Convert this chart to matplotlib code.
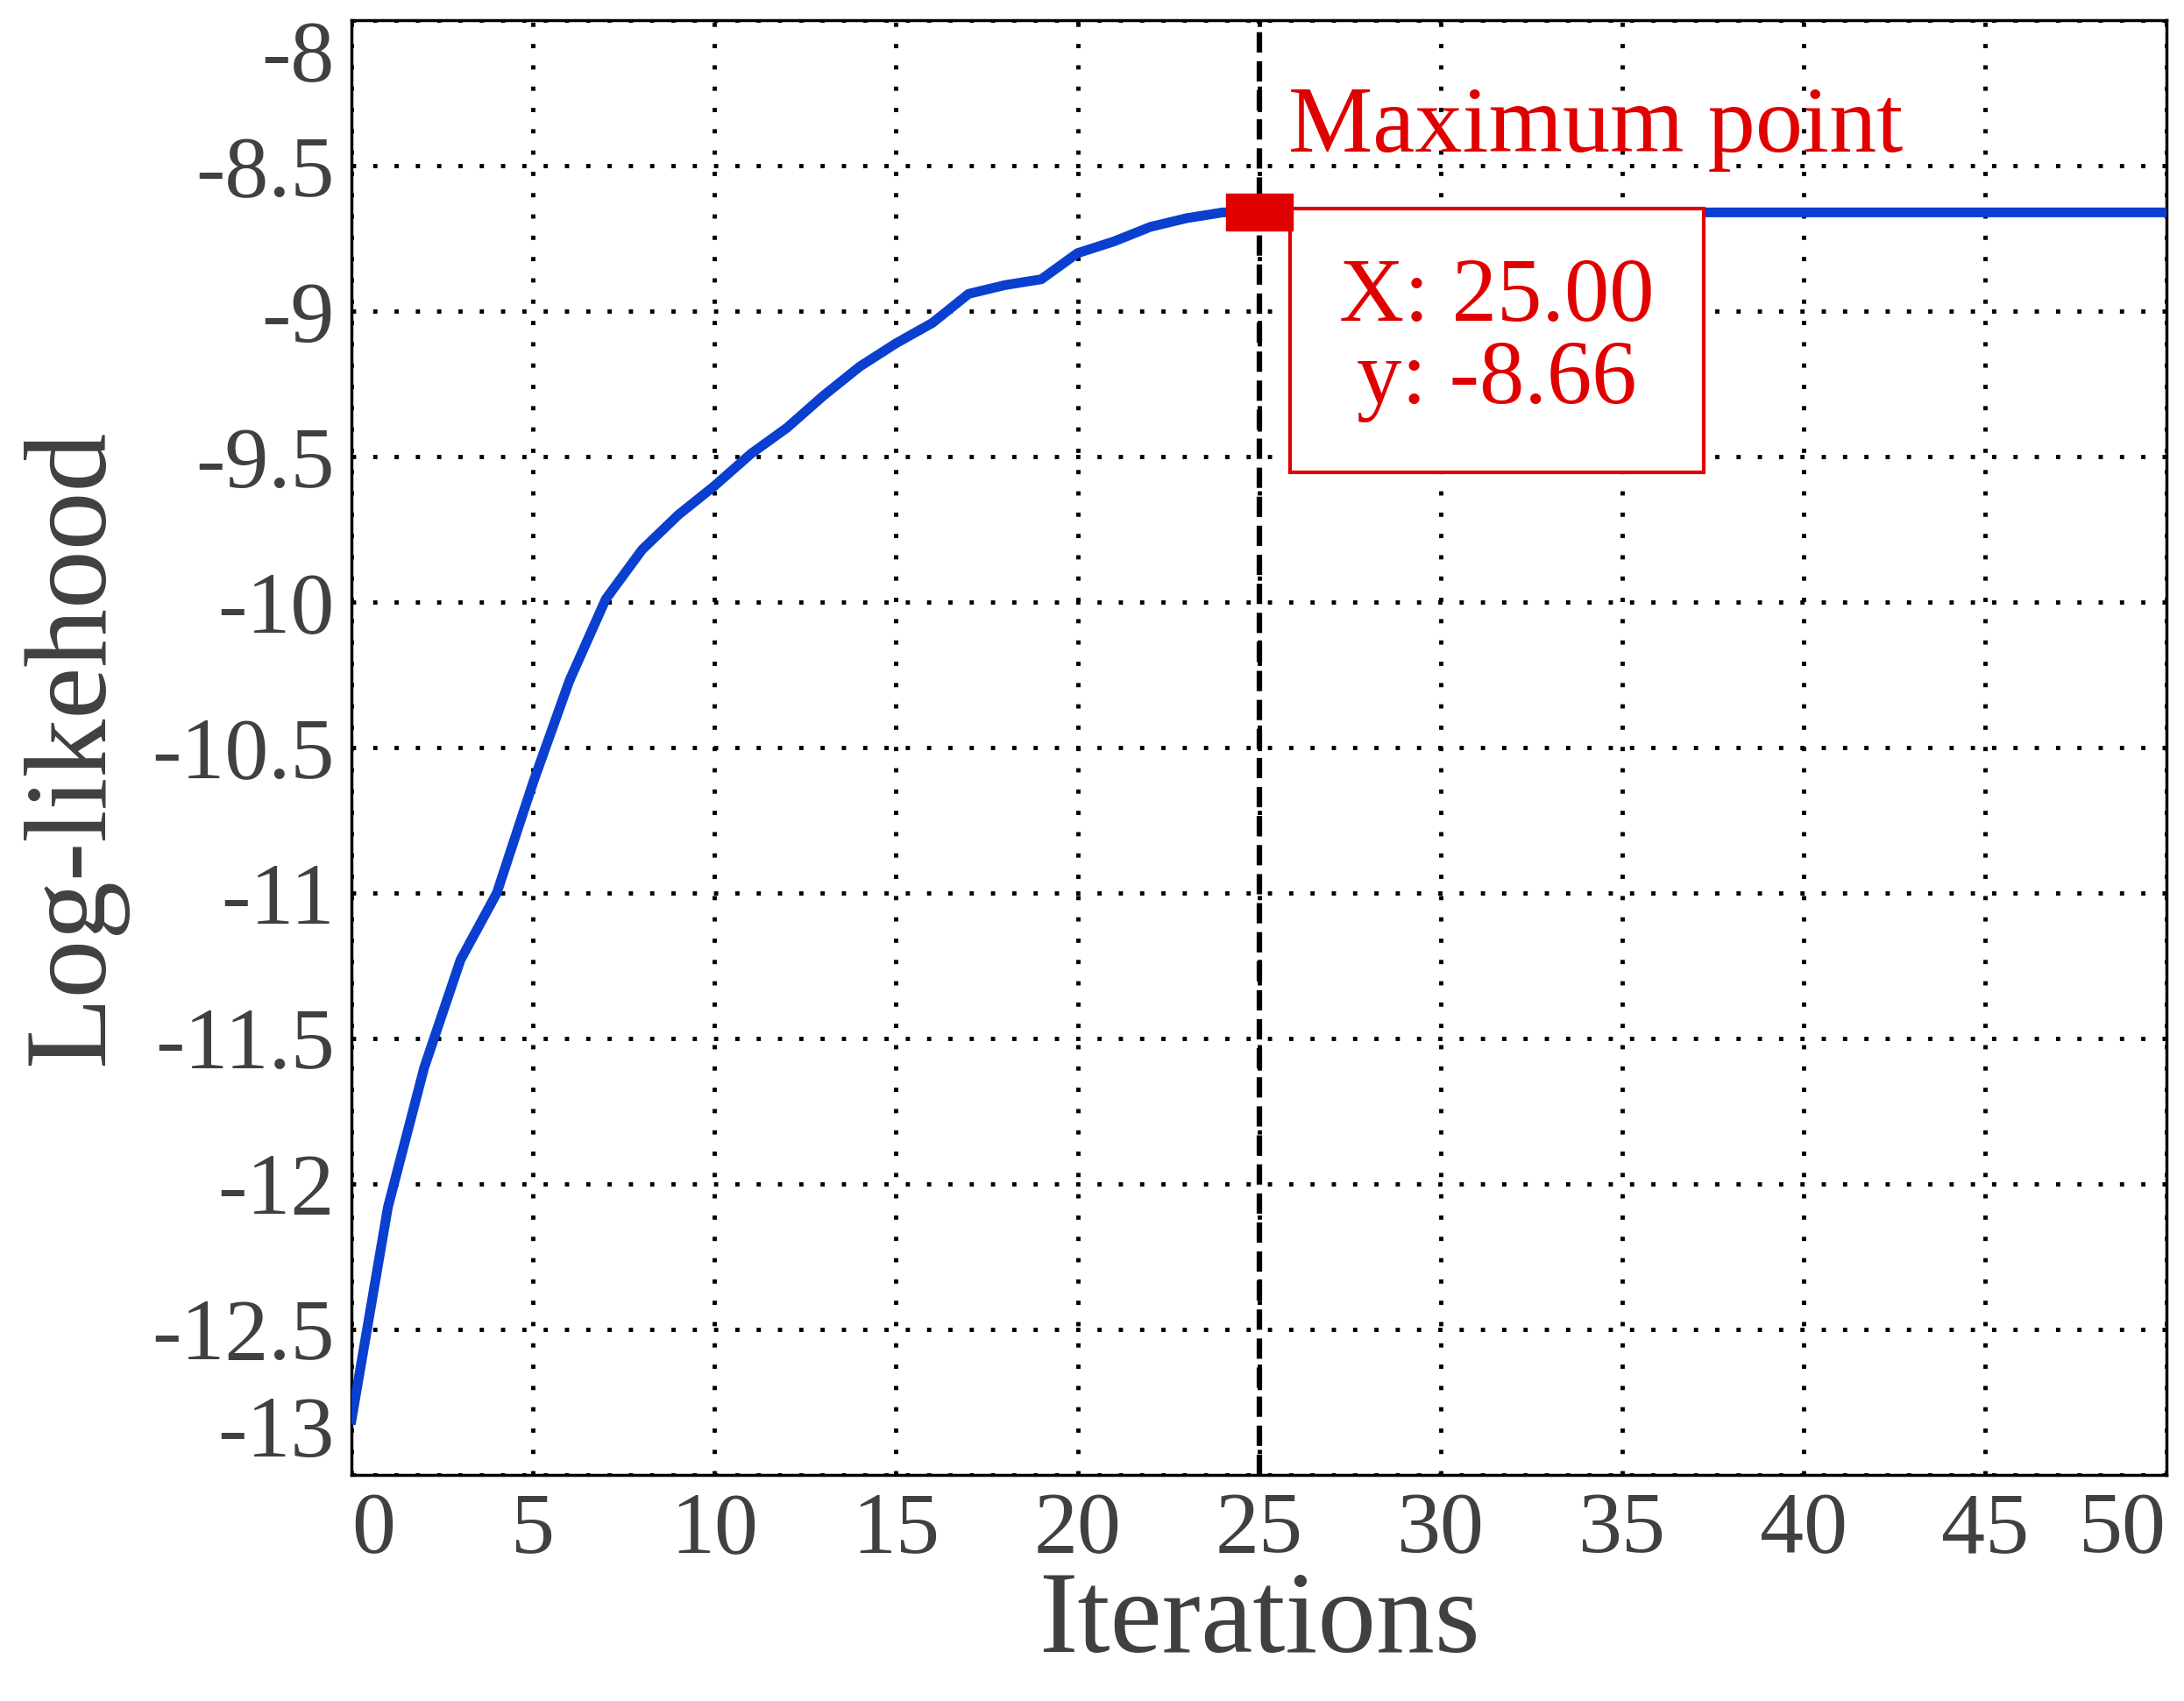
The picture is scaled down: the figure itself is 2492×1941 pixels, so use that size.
import numpy as np
import matplotlib.pyplot as plt

# log-likelihood per iteration
iterations = list(range(0, 51))
loglik_start = [-12.81, -12.08, -11.60, -11.23, -11.00, -10.62, -10.27, -9.99,
                -9.82, -9.70, -9.60, -9.49, -9.40, -9.29, -9.19, -9.11, -9.04,
                -8.94, -8.91, -8.89, -8.80, -8.76, -8.71, -8.68, -8.66]
loglik = loglik_start + [-8.66] * (len(iterations) - len(loglik_start))
max_x = 25
max_y = -8.66

xticks = list(range(0, 51, 5))
yticks = [-13, -12.5, -12, -11.5, -11, -10.5, -10, -9.5, -9, -8.5, -8]

def main():
    plt.rcParams['font.family'] = ['Liberation Serif', 'DejaVu Serif']
    grey = "#404040"
    fig = plt.figure(figsize=(24.92, 19.41), dpi=100)
    ax = fig.add_axes([0.161, 0.133, 0.831, 0.855])

    ax.plot(iterations, loglik, color="#0a3fd0", lw=8, zorder=3)
    ax.axvline(max_x, color="black", ls="--", lw=4.5, zorder=2)

    # flat rectangular marker
    verts = [(-1, -0.55), (1, -0.55), (1, 0.55), (-1, 0.55), (-1, -0.55)]
    ax.plot([max_x], [max_y], marker=verts, markersize=55, color="#e00000",
            zorder=4, ls="none")

    ax.text(25.8, -8.52, "Maximum point", color="#e00000", fontsize=78,
            ha="left", va="bottom")
    ax.text(31.55, -9.1, "X: 25.00\ny: -8.66", color="#e00000", fontsize=74,
            ha="center", va="center", linespacing=1.0,
            bbox=dict(boxstyle="square,pad=0.55", fc="white", ec="#e00000", lw=3))

    ax.set_xlim(0, 50)
    ax.set_ylim(-12.97, -8)
    ax.set_xticks(xticks)
    ax.set_yticks(yticks)
    ax.set_xticklabels([str(t) for t in xticks])
    ax.set_yticklabels([f"{t:g}" for t in yticks])
    ax.tick_params(labelsize=72, colors=grey, labelcolor=grey, length=0, pad=14)
    xl = ax.get_xticklabels()
    xl[0].set_ha("left")
    xl[-1].set_ha("right")
    yl = ax.get_yticklabels()
    yl[-1].set_va("top")
    yl[0].set_va("bottom")
    ax.grid(True, color="black", ls=(0, (1, 4)), lw=3.5)
    for s in ax.spines.values():
        s.set_linewidth(2.5)
        s.set_color("black")

    ax.set_xlabel("Iterations", fontsize=96, color=grey, labelpad=0)
    ax.set_ylabel("Log-likehood", fontsize=96, color=grey, labelpad=20)

    fig.savefig("out.png", dpi=100)

if __name__ == "__main__":
    main()
